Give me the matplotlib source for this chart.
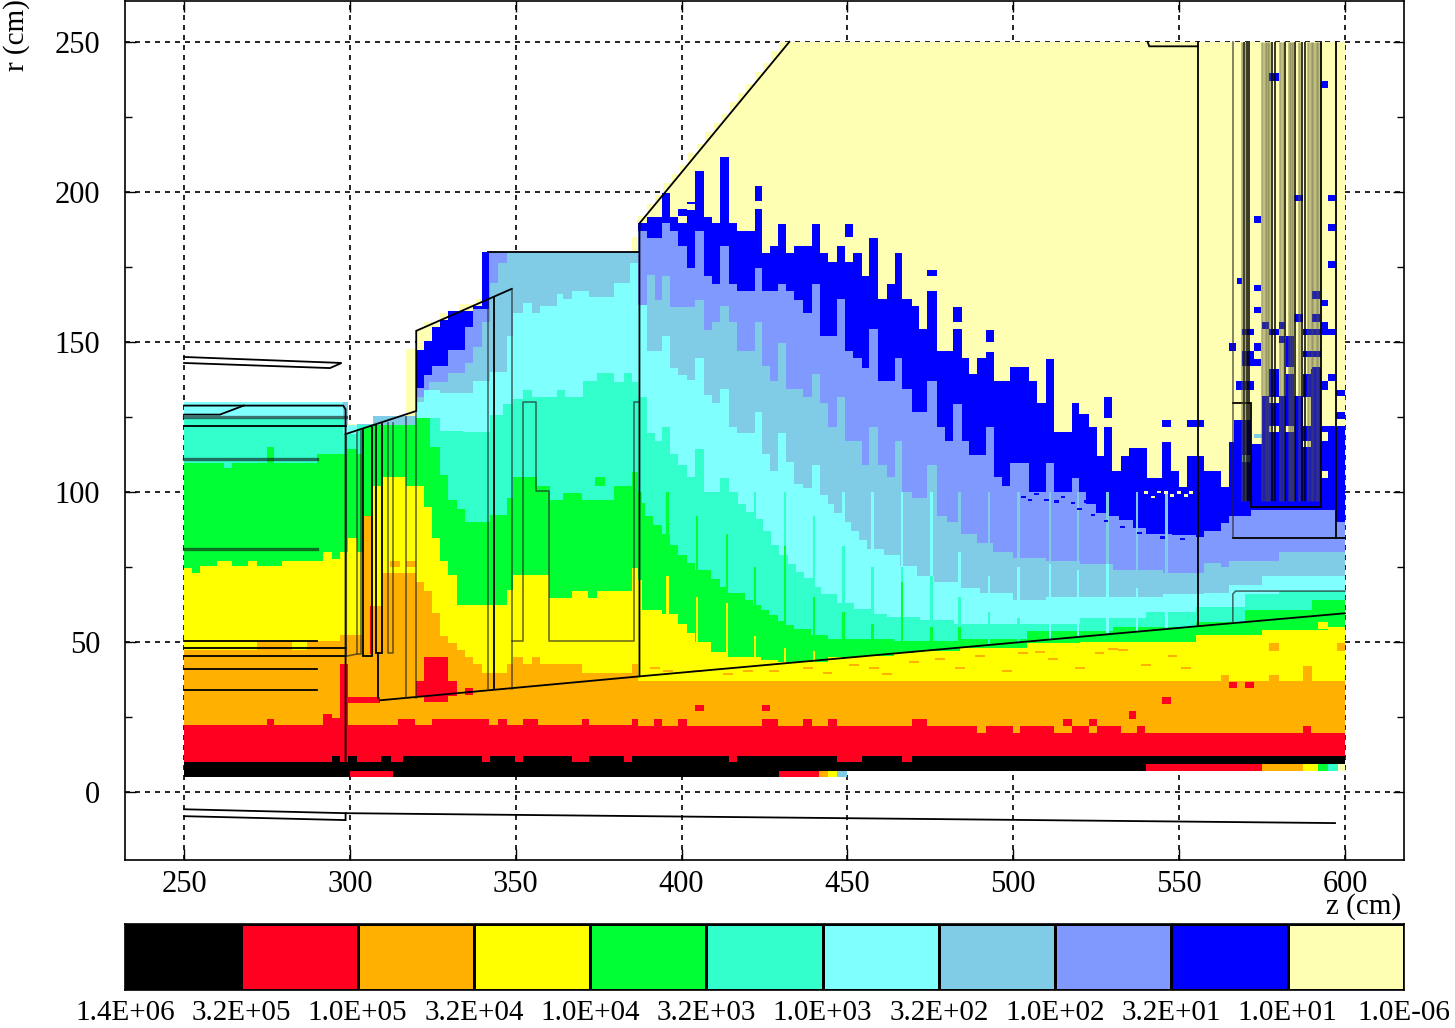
import matplotlib

matplotlib.use("Agg")
import matplotlib.pyplot as plt
from matplotlib.colors import ListedColormap
import numpy as np

plt.rcParams["font.family"] = ["Liberation Serif", "DejaVu Serif"]

colors = ["#000000", "#ff0020", "#ffb000", "#ffff00", "#00ff33", "#33ffcc",
          "#80ffff", "#80cce6", "#8099ff", "#0000ff", "#ffffb3"]
cbar_labels = ["1.4E+06", "3.2E+05", "1.0E+05", "3.2E+04", "1.0E+04", "3.2E+03",
               "1.0E+03", "3.2E+02", "1.0E+02", "3.2E+01", "1.0E+01", "1.0E-06"]

# upper edge of each fluence band, (z start, r top) pairs
cream = [(250, 0), (298.5, 122.5), (317, 147.8), (320, 154.3), (322.2, 156.7), (327.2, 159.7), (333, 162.7),
         (338, 164.4), (342, 168), (349, 179), (385, 185), (387, 192), (389.5, 196), (392, 199),
         (394.5, 203), (397, 206), (399.5, 209), (402, 213), (404.5, 216), (407, 220), (409.5, 223),
         (412, 226), (414.5, 230), (417, 233), (419.5, 236), (422, 240), (424.5, 243), (427, 247),
         (429.5, 250)]
blue = [(250, 0), (320, 147.2), (322.2, 150.2), (324.7, 155), (327.2, 157.3), (329.7, 160.3), (337.2, 162),
        (339.7, 180), (342, 0), (387, 189.7), (389.5, 191.8), (394, 199.5), (396.5, 191.8), (399, 194.3),
        (401.5, 196.7), (404, 207), (406.9, 191.8), (409.1, 189.7), (411.6, 211.7), (414.3, 189.7),
        (416.6, 186.9), (422, 194.3), (424.2, 179.5), (426.7, 182), (429, 189.4), (431.4, 179.5),
        (434, 182), (439.3, 189.4), (441.8, 179.5), (444.1, 176.8), (446.8, 182), (449.3, 176.8),
        (451.8, 179.5), (454.3, 171.9), (456.5, 184.5), (459.2, 164.2), (461.9, 169.4), (464.2, 179.5),
        (466.6, 164.2), (469.4, 162), (471.7, 154.3), (474.1, 167), (477, 147), (481.7, 154.3),
        (484.5, 144.5), (486.8, 139.3), (489.2, 144.5), (491.7, 146.7), (494.3, 136.9), (499, 141.6),
        (504.8, 136.9), (507.1, 129.5), (510, 144.4), (512.3, 119.9), (517.6, 129.5), (519.9, 126),
        (522.7, 121.7), (525.1, 112), (527.4, 121.7), (529.7, 107), (532.4, 112), (534.9, 114.6),
        (540.2, 104.6), (544.8, 116.6), (547.5, 107), (550, 101.7), (552.3, 112), (557.5, 107),
        (562.6, 101.7), (565, 116.6), (566.6, 124), (571.6, 116), (575.1, 132), (577.1, 141),
        (580.1, 132), (582.1, 152), (584.6, 132), (587.2, 141), (592.7, 122)]
med_blue = [(250, 0), (320, 134.7), (322.2, 138.9), (324.7, 141.9), (329.7, 147.2), (334.7, 155), (337.2, 160.9),
            (342, 180), (347.3, 0), (387, 186.9), (389.5, 184.5), (394, 189.7), (396.5, 186.9), (399, 182),
            (401.5, 174.7), (404, 186.9), (406.9, 171.9), (409.1, 169.4), (411.6, 182), (414.3, 169.4),
            (416.6, 167), (422, 174.7), (424.2, 167), (429, 169.4), (431.4, 167), (434, 164),
            (436.7, 159.6), (439.3, 169.4), (441.8, 151.9), (446.8, 164.2), (449.3, 147), (451.8, 144.5),
            (454.3, 141.4), (456.5, 154.3), (459.2, 136.9), (464.2, 144.5), (466.6, 134.4), (469.4, 126.7),
            (474.1, 136.9), (477, 121.8), (479.3, 116.9), (481.7, 129.2), (484.5, 116.9), (486.8, 112.2),
            (491.7, 121.8), (494.3, 104.9), (496.5, 101.9), (499, 109.6), (504.8, 100), (510, 109.6),
            (512.3, 100), (517.6, 104.6), (519.9, 100), (522, 96), (525, 93), (528, 92), (532, 90.6), (536, 88),
            (540, 86), (548, 85.6), (555, 85), (557.5, 87), (562.6, 89.7), (565, 92), (571.6, 94), (597.2, 90)]
lt_blue = [(250, 0), (298, 130), (299.5, 0), (302, 122.5), (307, 125.2), (320, 131.7), (324, 136.5),
           (329.7, 139.5), (334.7, 143), (337.2, 148.4), (339.7, 156.7), (342.2, 169.8), (344.8, 176.3),
           (347.3, 180), (387, 162), (389.5, 172.2), (392, 164.1), (394, 171.9), (396.5, 161.7),
           (404, 164.1), (406.9, 154), (409.1, 156.8), (411.6, 162), (414.3, 156.8), (416.6, 147),
           (422, 156.8), (424.2, 142), (426.7, 136.9), (429, 149.8), (431.4, 134.4), (436.7, 131.8),
           (439.3, 139.3), (441.8, 129.5), (444.1, 121.8), (446.8, 131.6), (449.3, 116.9), (454.3, 109.1),
           (456.5, 121.8), (459.2, 109.1), (461.9, 104.9), (464.2, 116.9), (466.6, 100), (469.4, 97.9),
           (474.1, 109.1), (477, 92), (480, 90), (484, 86), (489, 83), (494, 80), (500, 78), (510, 77), (520, 76),
           (530, 74), (545, 73), (557.5, 76.5), (562.6, 75), (565, 77), (580, 80)]
cyan = [(250, 130), (298, 122.2), (320, 130), (322.2, 134), (327.2, 133), (337.2, 137), (342.2, 140),
        (347.3, 152), (349.3, 159.7), (352.3, 163), (354.8, 159.7), (357.3, 162), (362.3, 166),
        (364.4, 164.4), (366.9, 167), (372, 165), (379.5, 169.8), (384.5, 176.3), (387, 162.4),
        (389.5, 147), (394, 151.9), (396.5, 141.4), (399, 139), (401.5, 137.2), (404, 144.5),
        (406.9, 132.3), (409.1, 129.5), (411.6, 134.4), (414.3, 121.8), (416.6, 119.7), (422, 126.7),
        (424.2, 112.7), (426.7, 107), (429, 119.7), (431.4, 109.9), (434, 102.8), (436.7, 101.4),
        (439.3, 109.1), (441.8, 99), (444, 96), (446, 93), (448.5, 90), (451, 87), (453.5, 84), (456, 81), (461, 79),
        (466, 75.5), (471, 72), (476, 70), (484, 68), (490, 66.4), (500, 64), (510, 65), (545, 66), (557.5, 66.5),
        (565, 69), (575, 72)]
teal = [(250, 124.6), (298, 119.3), (302, 122.2), (320, 124.6), (327.2, 120.5), (334, 120), (342.2, 125.8),
        (346.3, 129.4), (349.3, 131), (352.3, 134), (354.8, 131.7), (362.3, 134), (365, 131.7),
        (370.4, 137), (374.4, 139.5), (379.5, 136.5), (382.5, 139.5), (385, 136.5), (387, 131.6),
        (389.5, 119.7), (392, 116.9), (394, 121.8), (396.5, 112.7), (399, 109), (401.5, 105), (404, 114.3),
        (406.9, 100), (411.6, 104.7), (414.3, 100), (417, 96), (419.5, 93.5), (422, 91), (424.5, 87), (427, 82.5),
        (429.5, 79), (432, 76), (434.5, 73.5), (437, 71.3), (439.5, 68.5), (442, 66), (447, 63), (452, 61), (457, 59.5),
        (462, 58.5), (472, 57.3), (482, 55.9), (500, 56), (520, 58), (540, 60), (555, 61.6), (570, 66), (580, 67)]
green = [(250, 109.8), (275, 115), (277, 109.8), (290, 112.7), (299, 114.5), (302, 112.7), (304, 121.6),
         (307, 122.2), (320, 124.6), (324.2, 115), (327.2, 105.6), (329.7, 97.3), (332.2, 94.3),
         (334.7, 90.1), (342.2, 92.5), (347.3, 97.9), (349.3, 105), (356.3, 102), (360.3, 97.3),
         (364.4, 99.6), (369.9, 97.3), (379.5, 102), (385, 106.8), (387, 100), (388, 96.5), (389, 92),
         (391.5, 89), (394, 86), (396.5, 82.5), (399, 79), (401.5, 76.5), (404, 74), (409, 71), (411.5, 68.5), (414, 66.4),
         (419, 64), (421.5, 62.5), (424, 60.8), (426.5, 59), (429, 57), (431.5, 55.7), (434, 54.5), (439, 52.5), (444, 51),
         (464, 50.3), (484, 51), (504, 53.8), (530, 55), (555, 56.6), (570, 60.8), (590, 64)]
yellow = [(250, 74.7), (252.3, 72.9), (254.8, 75.3), (259.8, 77), (264.4, 75.3), (269.4, 77), (271.9, 75.3),
          (279.4, 77), (292, 80), (294.5, 77.6), (297, 80), (299.5, 84.8), (302, 80), (307, 102), (310, 105),
          (317, 102), (322.2, 94.9), (324.7, 84.8), (327.2, 77), (329.7, 72.3), (332.2, 62.2), (347.3, 67.5),
          (349.3, 72.3), (359.9, 64.6), (366.9, 67), (371.9, 64.6), (374.4, 67), (385, 74.7), (387, 70.6),
          (388, 60.8), (394, 59.4), (399, 56), (401.5, 53), (404, 50), (409, 46.8), (414, 45), (424, 44), (429, 43.5),
          (444, 45), (454, 45.4), (464, 46.5), (470, 47), (484, 48), (504, 49.6), (520, 50), (555, 52.5),
          (575, 54), (595, 55)]
orange = [(250, 47.3), (272, 50.3), (282.5, 47.3), (287, 50.3), (297, 52.3), (304, 91.9), (307, 62), (310, 72.9),
          (320, 70), (322.2, 67), (324.7, 59.8), (327.2, 52), (329.7, 49.7), (332.2, 47.3), (334.7, 45),
          (337.2, 42.6), (339.7, 39.6), (347.3, 42.6), (349.3, 45), (352.3, 42.6), (354.8, 45), (357.3, 42.6),
          (369.9, 39.6), (385, 42.6), (387, 37), (562.6, 39), (565, 37), (577.1, 39), (580.1, 37), (587.5, 42),
          (590, 37)]
red = [(250, 22.4), (275, 24.5), (277, 22.4), (294.5, 24.7), (297, 42.6), (299.5, 22.4), (314.6, 24.5),
       (319.6, 22.4), (324.7, 24.5), (341.8, 22.4), (344.8, 24.5), (347.3, 22.4), (352.3, 24.5), (356.8, 22.4),
       (369.9, 24.5), (372, 22.4), (385, 24.5), (387, 22), (391.8, 24.4), (394, 22), (399, 24.4), (401.5, 22),
       (424.2, 24.4), (429, 22), (436.7, 24.4), (439.3, 22), (444.1, 24.4), (446.8, 22), (469.4, 24.4),
       (474.1, 22), (489.2, 19.7), (491.7, 22), (500, 19.7), (502, 22), (512.3, 19.7), (517.6, 22), (522.7, 19.7),
       (525.1, 22), (532.4, 19.7), (537.4, 22), (539.7, 19.7), (587.2, 22), (589.7, 19.7)]
black = [(250, 10.2), (294.5, 12.2), (297, 10.2), (299.5, 12.2), (302, 10.2), (309.5, 12.2), (312.5, 10.2),
         (316, 12.2), (339.7, 10.2), (342.2, 12.2), (349.8, 10.2), (352.3, 12.2), (366.9, 10.2), (372, 12.2),
         (382.5, 10.2), (385, 12.2), (414.3, 10.2), (416.6, 12.2), (446.8, 10.2), (454.4, 12.2), (466.4, 10.2),
         (469.4, 12.2)]
bands = [cream, blue, med_blue, lt_blue, cyan, teal, green, yellow, orange, red, black]
band_colors = colors[::-1]

# isolated cells: z0, z1, r0, r1, colour index
cells = [
    # red patches near the left wall and target
    (297, 299.5, 22, 42.6, 1), (299.5, 309, 29.8, 31.8, 1), (306, 307, 46, 62, 1),
    (320, 322.2, 32, 37, 1), (322.2, 329.7, 30, 45, 1), (329.7, 332.2, 32, 37, 1), (334.7, 337.2, 32.5, 34.8, 1),
    (404, 406.9, 27, 29, 1), (424.2, 426.7, 27, 29, 1), (514.9, 517.6, 22.2, 24.3, 1), (522.7, 525.1, 22.2, 24.3, 1),
    (535, 537, 24.3, 27, 1), (544.8, 547.7, 29.3, 31.8, 1), (565, 567.4, 34.8, 36.8, 1), (569.8, 572.5, 34.8, 36.8, 1),
    (292, 294.5, 22, 26, 1),
    # patches in the yellow and green
    (312, 315, 75, 77, 2), (317, 320, 75, 77, 2), (577, 580, 47.2, 49.7, 2), (597.5, 600, 47.2, 49.7, 2),
    (592, 595, 54.5, 56.6, 3), (374, 377, 102, 105, 4), (262, 264.5, 108, 110, 5),
    # strip under the black band
    (250, 300, 5, 7, 0), (300, 313, 5, 7, 1), (313, 429.5, 5, 7, 0), (429.5, 441.5, 5, 7, 1), (441.5, 444, 5, 7, 2),
    (444, 447, 5, 7, 3), (447, 450, 5, 7, 7),
    (540, 575, 7, 9.4, 1), (575, 587.5, 7, 9.4, 2), (587.5, 592, 7, 9.4, 3), (592, 595, 7, 9.4, 4), (595, 598, 7, 9.4, 5),
    (598, 600, 7, 9.4, 10),
    # blue cells in the cream above the tail region
    (422, 424.2, 197, 202, 9), (401.5, 404, 194, 196, 10), (399, 401.5, 189.6, 192, 10),
    (449.3, 451.8, 185, 189.4, 9), (474.1, 477, 172, 174, 9), (481.7, 484.5, 156.8, 161.7, 9), (491.7, 494.3, 150, 154, 9),
    (527.4, 529.7, 124.5, 131.6, 9), (544.8, 547.5, 121.7, 124, 9), (552.3, 557.5, 121.7, 124, 9),
    (577, 580, 237, 239.7, 9), (592.7, 595, 234.6, 237, 9), (584.6, 587.2, 197, 199, 9), (595, 597.2, 197, 199, 9),
    (572.6, 574.8, 189.8, 192, 9), (595, 597.2, 187, 189.4, 9), (595, 597.2, 174.8, 177, 9), (567.4, 569.1, 169.2, 171.3, 9),
    (572.6, 574.8, 167, 169, 9), (590, 592.5, 164.2, 167, 9), (592.7, 595, 162, 164, 9), (572.6, 574.8, 159.6, 161.8, 9),
    (584.6, 587.2, 156.8, 159.3, 9), (590, 592.5, 156.8, 159.3, 9), (575, 577, 154.3, 156.5, 9), (592.7, 595, 154.3, 156.5, 9),
    (569, 572.6, 152.3, 154.3, 9), (577, 580, 152.3, 154.3, 9), (580, 582, 154.3, 156.5, 9), (587.2, 597, 152.3, 154.3, 9),
    (580, 582, 149.8, 152, 9), (587.2, 592.7, 144.9, 146.9, 9), (565, 567.1, 146.9, 149.7, 9), (572.6, 574.8, 146.9, 149.7, 9),
    (569, 572.6, 141.9, 146.9, 9), (571.6, 574.8, 141.9, 144.4, 9), (590, 592.5, 139.4, 141.6, 9), (567, 572.6, 134.1, 136.9, 9),
    (592.7, 595, 134.1, 136.9, 9), (597.2, 600, 132, 134, 9), (595, 597.2, 136.9, 139.4, 9), (597.2, 600, 124.2, 126.5, 9),
    # cream holes inside the blue
    (577, 580, 129.5, 131.6, 10), (577, 580, 119.9, 122, 10), (582, 584.6, 119.9, 122, 10), (587.2, 589.7, 122, 131.6, 10),
    (587.2, 589.7, 115, 117, 10), (592.7, 595, 117, 120, 10), (592.7, 595, 104.6, 107, 10), (582, 584.6, 139.4, 141.6, 10),
    (587.2, 589.7, 139.4, 141.6, 10), (572.6, 575, 118, 119.5, 7), (569, 571.6, 110, 112.5, 7),
]
# orange flecks in the yellow below the cone line
flecks = [(392, 41), (396, 40), (405, 40), (414, 39), (420, 40), (428, 40), (438, 41), (444, 39.5), (452, 42), (458, 41),
          (462, 39), (470, 43), (478, 44), (484, 41), (490, 45), (498, 40), (503, 46), (512, 44), (520, 41), (526, 46),
          (533, 47), (540, 42), (548, 45), (552, 41), (508, 46.5), (530, 47.5)]
# ragged blue / mid-blue fringe of the fine mesh
blue_flecks = [(503, 98), (505, 97), (507, 99), (510, 97), (513, 96.5), (515, 98), (518, 96), (520, 94), (522, 96.5), (524, 92),
               (526, 94), (528, 90), (530, 93), (533, 88), (535, 91), (538, 86), (540, 89), (542, 86), (545, 84.5), (548, 88),
               (551, 84), (553, 86)]
cream_flecks = [(540, 99.5), (542, 98), (546, 99.5), (548, 98.5), (550, 99.5), (552, 98.5), (553.5, 99.5), (544, 99.8)]

# vertical streaks of the fine mesh: z, floor, then top of each band in the streak
spike_z = [395.8, 404.6, 413.6, 422.1, 431.2, 440, 448.8, 457.6, 466.4, 475.3, 483.8, 492.7, 501.6, 511, 519.6, 528.4, 537.4, 546.2]
spike_floor = [39, 40, 41, 41.5, 42.5, 43.5, 44.5, 45.5, 46.5, 47.5, 48, 49, 50, 51, 52, 53, 53.5, 54.5]
spike_lt_blue = [0, 0, 0, 0, 0, 0, 0, 0, 0, 0, 100, 100, 100, 100, 100, 100, 100, 100]
spike_cyan = [0, 0, 0, 0, 0, 100, 100, 100, 100, 100, 80, 72, 75, 76, 74, 76, 68, 66]
spike_teal = [0, 0, 0, 100, 100, 92, 82, 75, 75, 72, 65, 60, 58, 0, 0, 0, 0, 0]
spike_green = [100, 92, 86, 75, 82, 65, 60, 56, 70, 55, 55, 0, 0, 0, 0, 0, 0, 0]
spike_yellow = [72, 65, 63, 52, 48, 47, 0, 0, 0, 0, 0, 0, 0, 0, 0, 0, 0, 0]

# detector outlines: black lines
outlines = [
    [(250, 145), (297.5, 143), (294, 141.3), (250, 143)],
    [(250, 128.8), (298, 128.8), (298.7, 127.5), (298.7, 10)],
    [(250, 122), (298.7, 122)],
    [(250, 125.8), (260.8, 125.8), (268, 128.8)],
    [(250, 50.3), (290, 50.3)], [(250, 48.2), (298.7, 48.2)], [(250, 45.3), (298.7, 45.3)],
    [(250, 41), (290, 41)], [(250, 34.2), (290, 34.2)],
    [(298.7, 119.3), (320, 127), (320, 153.7), (348.8, 167.7)],
    [(304, 121), (304, 45.5), (306.6, 45.5), (306.6, 121.5)],
    [(308, 122), (308, 46.5), (309.8, 46.5), (309.8, 122.5)], [(308.6, 46.5), (308.6, 31.5)],
    [(343.5, 165), (343.5, 34.5)],
    [(341.5, 180), (387.3, 180)],
    [(432.5, 250), (387.3, 189.5), (387.3, 38.6)],
    [(309, 30.6), (387.5, 38.6), (555.7, 55.3), (600, 59.6)],
    [(540.5, 250), (541, 248.5), (555.7, 248.5)], [(555.7, 250), (555.7, 55.3)],
    [(566.2, 129.8), (571.6, 129.8), (571.6, 95), (592.7, 95), (592.7, 250)],
    [(566.2, 84.8), (600, 84.8)], [(597.2, 250), (597.2, 84.8)],
    [(250, -5.7), (298.7, -7), (597, -10.3)], [(250, -8), (298.7, -9.3), (298.7, -7)],
]
# same, softer lines
soft_outlines = [
    [(302, 120), (302, 46), (303.5, 46), (303.5, 120.5)], [(313, 123), (313, 46.5), (311.5, 46.5), (311.5, 123)],
    [(317, 125), (317, 31.5)], [(320, 127), (320, 31.5)], [(341.5, 164), (341.5, 34.5)],
    [(298.9, 119.3), (298.9, 45.3), (302, 46)], [(348.8, 167.7), (348.8, 34.5)],
    [(349, 50.3), (352.1, 50.3), (352.1, 130), (356, 130), (356, 100.2), (360.1, 100.2), (360.1, 50.3), (385.7, 50.3),
     (385.7, 130), (387.3, 130)],
    [(566.2, 250), (566.2, 84.8)], [(566.2, 57), (566.2, 66), (567, 67), (600, 67)],
]
thick_outlines = [[(250, 125), (298.7, 125)], [(250, 111), (290, 111)], [(250, 81), (290, 81)]]
tail_black_z = [569.6, 570.5, 571.2, 578, 579, 582, 585, 587, 588]
tail_soft_z = [569, 570, 575.1, 575.8, 576.5, 577.2, 580.5, 581.2, 583, 583.7, 584.3, 586, 589, 589.7, 590.5, 591.2, 591.9]

fig = plt.figure(figsize=(14.55, 10.28), dpi=100)
W, H = 1455.0, 1028.0
ax = fig.add_axes([125 / W, 1 - 860 / H, (1404 - 125) / W, 859 / H])

for band, color in zip(bands, band_colors):
    z = [p[0] for p in band] + [600]
    top = [max(p[1], 7) for p in band]
    top = top + [top[-1]]
    ax.fill_between(z, 7, top, step="post", color=color, linewidth=0, antialiased=False, zorder=2)

for tops, idx in zip([spike_lt_blue, spike_cyan, spike_teal, spike_green, spike_yellow], [7, 6, 5, 4, 3]):
    for z, low, top in zip(spike_z, spike_floor, tops):
        if top > 0:
            ax.bar(z, top - low, width=0.7, bottom=low, color=colors[idx], linewidth=0, zorder=3)

for z0, z1, r0, r1, idx in cells:
    ax.bar(z0, r1 - r0, width=z1 - z0, bottom=r0, align="edge", color=colors[idx], linewidth=0, zorder=4)
for z, r in flecks:
    ax.bar(z, 0.7, width=3.0, bottom=r, color=colors[2], linewidth=0, zorder=4)
for z, r in blue_flecks:
    ax.bar(z, 0.7, width=1.4, bottom=r, color=colors[9], linewidth=0, zorder=4)
for z, r in cream_flecks:
    ax.bar(z, 0.7, width=1.2, bottom=r, color=colors[10], linewidth=0, zorder=4)

for line in outlines:
    ax.plot([p[0] for p in line], [p[1] for p in line], color="black", lw=1.3, solid_joinstyle="miter", zorder=6)
for line in soft_outlines:
    ax.plot([p[0] for p in line], [p[1] for p in line], color="#222222", lw=1.2, alpha=0.65, zorder=6)
for line in thick_outlines:
    ax.plot([p[0] for p in line], [p[1] for p in line], color="#111111", lw=2.4, alpha=0.6, zorder=6)
ax.vlines(tail_black_z, 97, 250, color="black", lw=1.1, zorder=6)
ax.vlines(tail_soft_z, 97, 250, color="#555533", lw=1.8, alpha=0.5, zorder=6)

ax.set_xlim(232.2, 617.8)
ax.set_ylim(-22.6, 263.6)
ax.set_xticks(np.arange(250, 601, 50))
ax.set_yticks(np.arange(0, 251, 50))
ax.set_yticks(np.arange(25, 251, 50), minor=True)
ax.tick_params(axis="both", which="major", direction="in", length=8, width=1, top=True, right=True, labelsize=22)
ax.tick_params(axis="x", pad=7)
ax.tick_params(axis="y", pad=18)
ax.tick_params(axis="y", which="minor", direction="in", length=5, width=1, right=True)
ax.grid(True, which="major", color="black", lw=1.2, linestyle=(0, (3, 3)), zorder=1)
ax.set_axisbelow(True)
for spine in ax.spines.values():
    spine.set_linewidth(1.2)

fig.text(17 / W, 1 - 35 / H, "r (cm)", rotation=90, fontsize=21, ha="center", va="center")
fig.text(1364 / W, 1 - 907 / H, "z (cm)", fontsize=21, ha="center", va="center")

cax = fig.add_axes([125 / W, 1 - 990 / H, (1404 - 125) / W, 66 / H])
cax.pcolormesh(np.arange(12), [0, 1], np.arange(11).reshape(1, -1), cmap=ListedColormap(colors),
               edgecolors="black", linewidth=0.8)
cax.set_xticks(np.arange(12))
cax.set_xticklabels(cbar_labels, fontsize=21)
cax.set_yticks([])
cax.tick_params(axis="x", length=0, pad=7)
for spine in cax.spines.values():
    spine.set_linewidth(1.2)

fig.savefig("out.png", dpi=100)
plt.close(fig)
